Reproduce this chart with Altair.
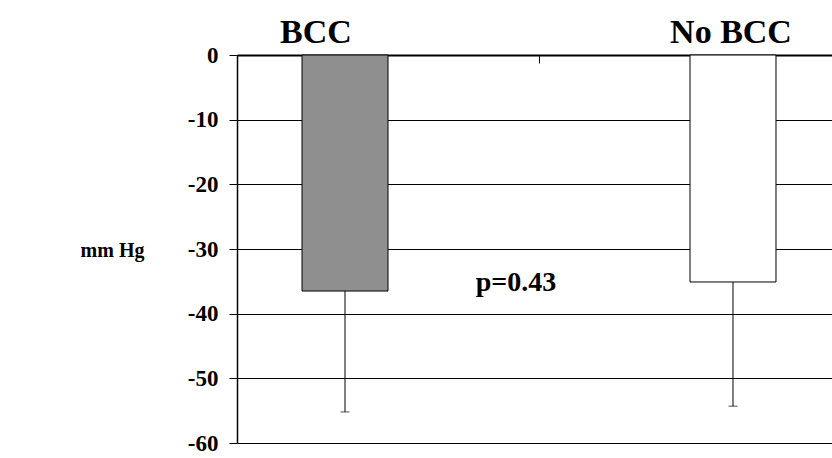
import altair as alt
import pandas as pd

# Change in pressure (mm Hg), mean with one-sided SD error bars
groups = ["BCC", "No BCC"]
means = [-36.5, -35.1]
sds = [18.7, 19.2]
fills = ["#8f8f8f", "#ffffff"]
head_shift = [-29, -2]  # horizontal nudge of each group heading, px
y_ticks = [-60, -50, -40, -30, -20, -10, 0]
y_title = "mm Hg"
p_label = "p=0.43"
p_level = -35.3

FONT = "Liberation Serif"
W, H = 595, 388
X_SPAN = 604  # the category scale runs slightly past the visible frame

df = pd.DataFrame({"group": groups, "mean": means, "sd": sds, "fill": fills})
df["low"] = df["mean"] - df["sd"]
ann = pd.DataFrame({"label": [p_label], "level": [p_level]})

x_scale = alt.Scale(domain=groups, range=[0, X_SPAN], paddingInner=0, paddingOuter=0)
x_axis = alt.Axis(
    orient="bottom", offset=-H, labels=False, title=None, bandPosition=0,
    tickSize=8, tickColor="black", tickWidth=1,
    domainColor="black", domainWidth=2, grid=False,
)
x_enc = alt.X("group:N", scale=x_scale, axis=x_axis)
xo_enc = alt.XOffset("group:N", scale=alt.Scale(domain=groups, paddingInner=0, paddingOuter=0.756))

y_scale = alt.Scale(domain=[-60, 0], nice=False, zero=False)
y_axis = alt.Axis(
    values=y_ticks, labelExpr="toString(datum.value)", title=y_title,
    titleAngle=0, titleAlign="center", titleBaseline="middle",
    titleX=-125, titleY=195, titleFont=FONT, titleFontSize=20,
    titleFontWeight="bold", titleColor="black",
    labelFont=FONT, labelFontSize=23, labelFontWeight="bold", labelColor="black",
    labelPadding=11, tickSize=8, tickColor="black", tickWidth=1,
    domainColor="black", domainWidth=1.5,
    grid=True, gridColor="black", gridWidth=1, gridOpacity=1,
)
y_enc = alt.Y("mean:Q", scale=y_scale, axis=y_axis)

base = alt.Chart(df)

bars = base.mark_bar(stroke="black", strokeWidth=1).encode(
    x=x_enc, xOffset=xo_enc, y=y_enc,
    color=alt.Color("fill:N", scale=None),
)

err = base.mark_rule(color="black", strokeWidth=1).encode(
    x=x_enc, xOffset=xo_enc, y="mean:Q", y2="low:Q",
)

caps = base.mark_tick(orient="horizontal", size=9, thickness=1, color="black").encode(
    x=x_enc, xOffset=xo_enc, y="low:Q",
)

# group headings above the plot frame
heads = [
    alt.Chart(df[df["group"] == g]).mark_text(
        font=FONT, fontSize=34, fontWeight="bold", color="black",
        baseline="alphabetic", dy=-12, dx=s,
    ).encode(x=x_enc, xOffset=xo_enc, y=alt.datum(0), text="group:N")
    for g, s in zip(groups, head_shift)
]

p_text = alt.Chart(ann).mark_text(
    font=FONT, fontSize=28, fontWeight="bold", color="black",
    align="center", baseline="middle", dx=-23,
).encode(
    x=alt.X(datum="No BCC", bandPosition=0, scale=x_scale),
    y="level:Q",
    text="label:N",
)

chart = alt.layer(bars, err, caps, *heads, p_text).properties(
    width=W, height=H,
    autosize=alt.AutoSizeParams(type="none"),
    padding={"left": 237, "top": 55, "right": 0, "bottom": 15},
    background="white",
).configure_view(stroke=None)

chart.save("out.html", embed_options={"renderer": "svg", "actions": False})
